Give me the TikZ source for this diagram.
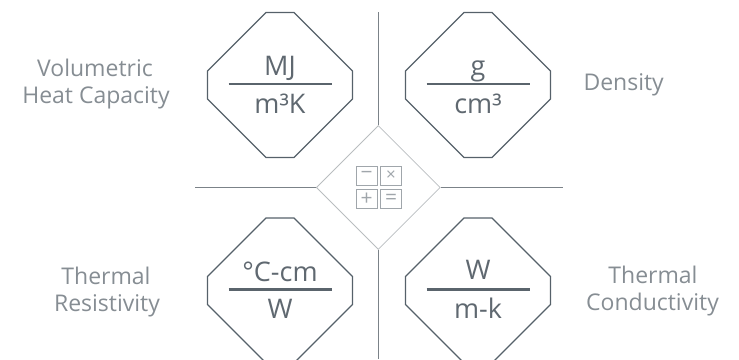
\documentclass[tikz,border=0pt]{standalone}
\usepackage{fontspec}
\setmainfont{Open Sans}
\usetikzlibrary{shapes.geometric}
\definecolor{octline}{HTML}{56616A}
\definecolor{barcol}{HTML}{5A646C}
\definecolor{fraccol}{HTML}{5F6870}
\definecolor{sidecol}{HTML}{868D93}
\definecolor{sepcol}{HTML}{7B8288}
\definecolor{diacol}{HTML}{B9BDC0}
\definecolor{keycol}{HTML}{A0A6AB}
\tikzset{
  octa/.style={draw=octline, line width=1.1pt},
  bar/.style={draw=barcol, line width=2.6pt},
  frac/.style={text=fraccol, font=\fontsize{27}{27}\selectfont, inner sep=0pt, anchor=base},
  side/.style={text=sidecol, font=\fontsize{23}{23}\selectfont, inner sep=0pt, anchor=base},
  sep/.style={draw=sepcol, line width=0.9pt},
  calcbox/.style={diamond, draw=diacol, line width=0.8pt, minimum width=124pt, minimum height=124pt, inner sep=0pt},
  key/.style={draw=keycol, line width=0.9pt, minimum width=21pt, minimum height=19pt, inner sep=0pt, text=keycol, font=\fontsize{21}{21}\selectfont},
}
\begin{document}
\begin{tikzpicture}[x=1pt, y=-1pt]
\useasboundingbox (0,0) rectangle (739,359);
\clip (0,0) rectangle (739,359);

% the four unit signs
\foreach \cx/\cy/\nm/\num/\den/\up in {280/85/vhc/MJ/m³K/10, 478/85/dens/g/cm³/10,
    280/290.5/tres/°C-cm/W/9, 478/290.5/tcond/W/m-k/11}{
  \draw[octa] (\cx-14,\cy-72.5) -- (\cx+14,\cy-72.5) -- (\cx+72.5,\cy-14) -- (\cx+72.5,\cy+14)
    -- (\cx+14,\cy+72.5) -- (\cx-14,\cy+72.5) -- (\cx-72.5,\cy+14) -- (\cx-72.5,\cy-14) -- cycle;
  \draw[bar] (\cx-51.5,\cy-1) -- (\cx+51.5,\cy-1);
  \node[frac] (\nm-t) at (\cx,\cy-\up) {\num};
  \node[frac] (\nm-b) at (\cx,\cy+28) {\den};
}

% calculator in the middle
\node[calcbox] (calc) at (378.3,187.5) {};
\coordinate (n-end) at (378.3,12.3);
\coordinate (s-end) at (378.3,359);
\coordinate (w-end) at (195,187.5);
\coordinate (e-end) at (562.7,187.5);
\draw[sep] (n-end) -- (calc.north);
\draw[sep] (calc.south) -- (s-end);
\draw[sep] (w-end) -- (calc.west);
\draw[sep] (calc.east) -- (e-end);
\node[key] (minus) at (366.7,175.5) {−};
\node[key, font=\fontsize{17}{17}\selectfont] (times) at (391,175.5) {×};
\node[key] (plus) at (366.7,199.3) {+};
\node[key] (equal) at (391,199.3) {=};

% names
\node[side] (vol) at (95,76) {Volumetric};
\node[side] (heat) at (96,103) {Heat Capacity};
\node[side, anchor=base west] (dens) at (583.3,90) {Density};
\node[side] (thr) at (106,284) {Thermal};
\node[side] (res) at (107,311) {Resistivity};
\node[side] (thc) at (653,283.5) {Thermal};
\node[side] (con) at (652.5,310.5) {Conductivity};
\end{tikzpicture}
\end{document}
